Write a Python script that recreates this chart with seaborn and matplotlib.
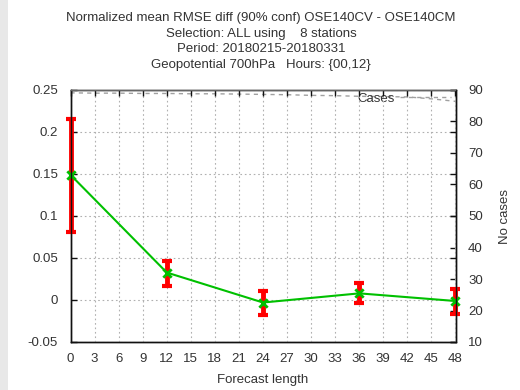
import matplotlib
matplotlib.use("Agg")
import matplotlib.pyplot as plt
import seaborn as sns
import pandas as pd
from matplotlib.patches import Rectangle

# Forecast lengths and normalized RMSE difference with 90% confidence bounds
lead_hours = [0, 12, 24, 36, 48]
rmse_diff = [0.149, 0.0327, -0.0030, 0.0079, -0.0012]
ci_low = [0.0807, 0.0165, -0.0177, -0.0039, -0.0165]
ci_high = [0.2150, 0.0470, 0.0106, 0.0205, 0.0126]

# Number of cases per forecast length
case_hours = [0, 3, 6, 9, 12, 15, 18, 21, 24, 27, 30, 33, 36, 39, 42, 45, 48]
case_counts = [89.1, 89.0, 89.0, 88.9, 88.9, 88.8, 88.8, 88.7, 88.6,
               88.5, 88.3, 88.2, 88.0, 87.9, 87.8, 87.2, 86.4]

x_ticks = list(range(0, 49, 3))
y_ticks = [-0.05, 0, 0.05, 0.1, 0.15, 0.2, 0.25]
y_tick_labels = ["-0.05", "0", "0.05", "0.1", "0.15", "0.2", "0.25"]
case_ticks = [10, 20, 30, 40, 50, 60, 70, 80, 90]

title_lines = [
    "Normalized mean RMSE diff (90% conf) OSE140CV - OSE140CM",
    "Selection: ALL using    8 stations",
    "Period: 20180215-20180331",
    "Geopotential 700hPa   Hours: {00,12}",
]

sns.set_style("white")
plt.rcParams["font.family"] = ["Liberation Sans", "DejaVu Sans"]
text_color = "#333333"
fs = 9.5

W, H = 520, 390
fig = plt.figure(figsize=(W / 100, H / 100), dpi=100)
fig.patch.set_facecolor("white")
fig.add_artist(Rectangle((0, 0), 8 / W, 1, transform=fig.transFigure,
                         facecolor="#e8e8e8", edgecolor="none", zorder=0))

left, right, top, bottom = 70.5, 455.5, 90, 342
ax = fig.add_axes([left / W, 1 - bottom / H, (right - left) / W, (bottom - top) / H])
ax2 = ax.twinx()

# Cases on the secondary axis
cases_df = pd.DataFrame({"hour": case_hours, "cases": case_counts})
sns.lineplot(data=cases_df, x="hour", y="cases", ax=ax2, color="#a0a0a0",
             linewidth=1.0, label="Cases")
ax2.lines[0].set_dashes((3, 3))
ax2.set_ylim(10, 90)
ax2.set_yticks(case_ticks)
ax2.set_ylabel("No cases", color=text_color, fontsize=fs)
ax2.yaxis.label.set_va("center")
ax2.yaxis.set_label_coords(1.0 + (505 - right) / (right - left), 0.5)
ax2.legend(loc="center right",
           bbox_to_anchor=(1.0 - 3 / (right - left), 1 - 8.5 / (bottom - top)),
           frameon=False, fontsize=fs, markerfirst=False,
           handlelength=3.9, handletextpad=0.35, borderaxespad=0.0, borderpad=0.1,
           labelcolor=text_color)

# Main series
df = pd.DataFrame({"hour": lead_hours, "diff": rmse_diff})
sns.lineplot(data=df, x="hour", y="diff", ax=ax, color="#00c000", linewidth=1.5,
             zorder=4)
yerr = [[d - lo for d, lo in zip(rmse_diff, ci_low)],
        [hi - d for d, hi in zip(rmse_diff, ci_high)]]
ax.errorbar(lead_hours, rmse_diff, yerr=yerr, fmt="none", ecolor="#ff0000",
            elinewidth=3.5, capsize=3.5, capthick=3, zorder=3, clip_on=False)
ax.scatter(lead_hours, rmse_diff, marker="x", s=36, color="#00c000",
           linewidths=2, zorder=5, clip_on=False)

ax.set_xlim(0, 48)
ax.set_ylim(-0.05, 0.25)
ax.set_xticks(x_ticks)
ax.set_xticklabels([str(h) for h in x_ticks])
ax.set_yticks(y_ticks)
ax.set_yticklabels(y_tick_labels)
ax.set_xlabel("Forecast length", color=text_color, fontsize=fs)
ax.xaxis.label.set_va("center")
ax.xaxis.set_label_coords(0.5, -(380 - bottom) / (bottom - top))
ax.set_ylabel("")
ax.grid(True, color="#b0b0b0", linestyle=(0, (1.5, 2.5)), linewidth=0.8)
ax.set_axisbelow(True)

ax.set_zorder(ax2.get_zorder() + 1)
ax.patch.set_visible(False)

for a in (ax, ax2):
    for sp in a.spines.values():
        sp.set_color("#111111")
        sp.set_linewidth(1.0)
        sp.set_zorder(10)
ax.spines["top"].set_color("#666666")

ax.tick_params(axis="both", direction="in", length=4, width=1, colors="#111111",
               labelcolor=text_color, labelsize=fs, top=True, right=True)
ax.tick_params(axis="y", pad=9)
ax.tick_params(axis="x", pad=8)
ax2.tick_params(axis="y", direction="in", length=4, width=1, colors="#111111",
                labelcolor=text_color, labelsize=fs, pad=9)

for i, line in enumerate(title_lines):
    fig.text(261 / W, 1 - (18 + 15.6 * i) / H, line, ha="center", va="center",
             fontsize=fs, color=text_color)

fig.savefig("out.png", dpi=100, facecolor="white")
